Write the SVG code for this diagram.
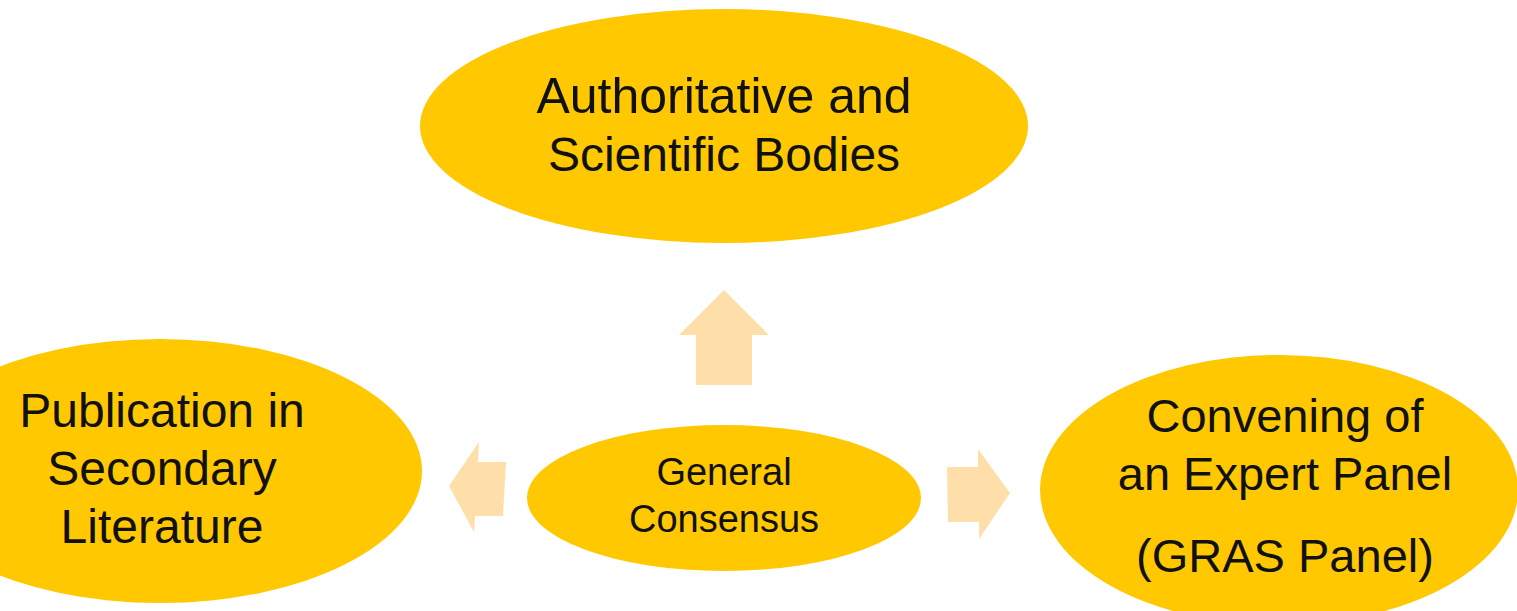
<svg xmlns="http://www.w3.org/2000/svg" width="1517" height="611" viewBox="0 0 1517 611">
<style>
.node{fill:#FFC800;}
.arrow{fill:#FFDFA9;}
.lbl{font-family:"Liberation Sans",Arial,sans-serif;fill:#111;text-anchor:middle;}
.big{font-size:48px;}
.top{font-size:50px;}
.right{font-size:47px;}
.small{font-size:38px;}
</style>
<rect width="1517" height="611" fill="#ffffff"/>
<g id="connectors">
<polygon class="arrow" points="724,290 769,335 752,335 752,385 696,385 696,335 679,335"/>
<polygon class="arrow" points="449,486 479,442 478,462 506,462 503,516 475,516 474,532"/>
<polygon class="arrow" points="1010,493 978,449 978,467 947,467 948,522 979,522 979,539"/>
</g>
<g id="node-authoritative">
<ellipse class="node" cx="724" cy="126" rx="304" ry="117"/>
<text class="lbl top" x="724" y="113">Authoritative and</text>
<text class="lbl big" x="724" y="171">Scientific Bodies</text>
</g>
<g id="node-publication">
<ellipse class="node" cx="160" cy="471" rx="262" ry="132"/>
<text class="lbl big" x="162" y="427">Publication in</text>
<text class="lbl big" x="162" y="485">Secondary</text>
<text class="lbl big" x="162" y="543">Literature</text>
</g>
<g id="node-general">
<ellipse class="node" cx="724" cy="498" rx="197" ry="73"/>
<text class="lbl small" x="724" y="485">General</text>
<text class="lbl small" x="724" y="532">Consensus</text>
</g>
<g id="node-expert">
<ellipse class="node" cx="1279" cy="490" rx="239" ry="135"/>
<text class="lbl right" x="1285" y="432">Convening of</text>
<text class="lbl right" x="1285" y="490">an Expert Panel</text>
<text class="lbl right" x="1285" y="572">(GRAS Panel)</text>
</g>
</svg>
